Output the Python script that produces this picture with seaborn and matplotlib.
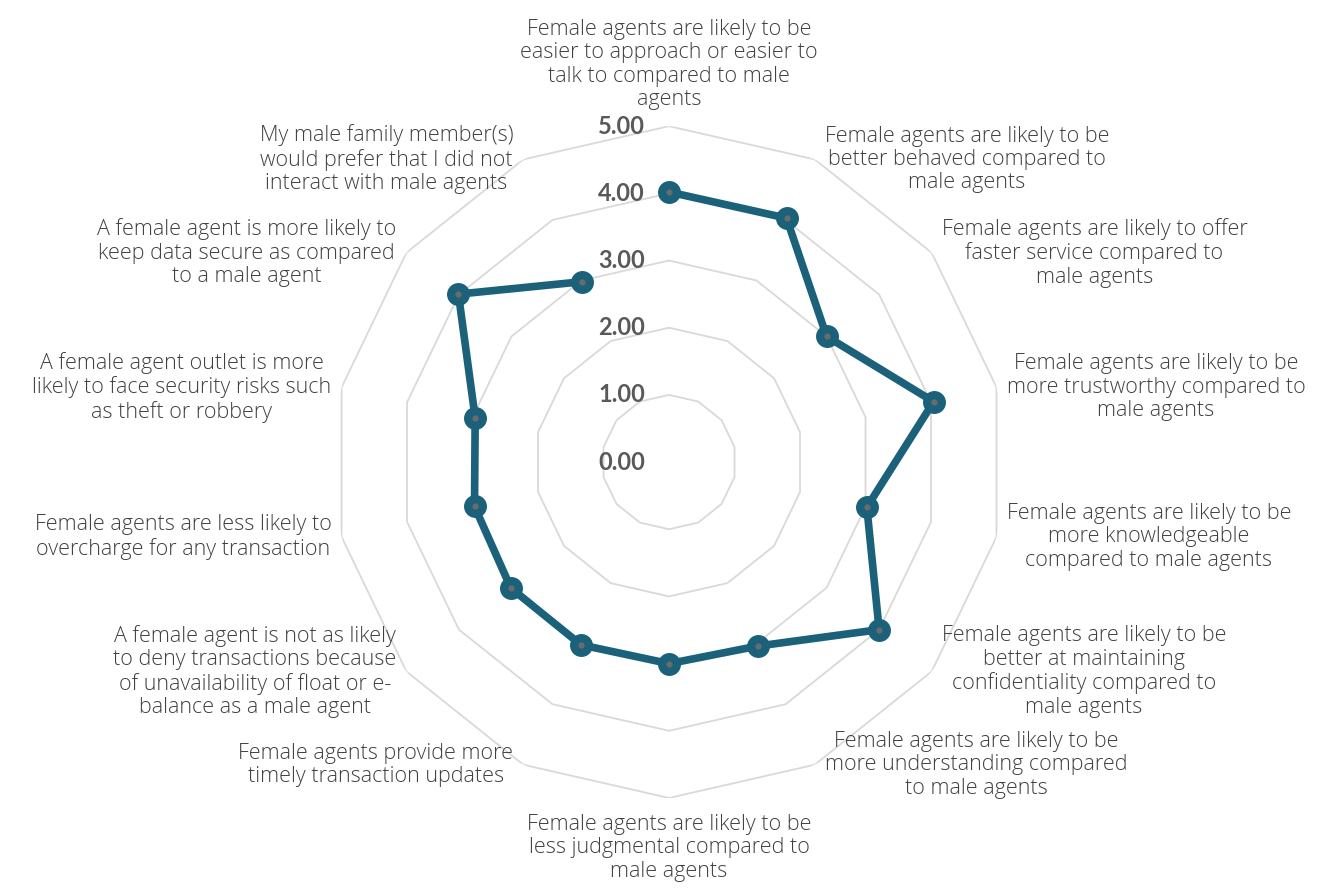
import matplotlib
matplotlib.use("Agg")
import numpy as np
import pandas as pd
import matplotlib.pyplot as plt
import seaborn as sns

categories = [
    "Female agents are likely to be\neasier to approach or easier to\ntalk to compared to male\nagents",
    "Female agents are likely to be\nbetter behaved compared to\nmale agents",
    "Female agents are likely to offer\nfaster service compared to\nmale agents",
    "Female agents are likely to be\nmore trustworthy compared to\nmale agents",
    "Female agents are likely to be\nmore knowledgeable\ncompared to male agents",
    "Female agents are likely to be\nbetter at maintaining\nconfidentiality compared to\nmale agents",
    "Female agents are likely to be\nmore understanding compared\nto male agents",
    "Female agents are likely to be\nless judgmental compared to\nmale agents",
    "Female agents provide more\ntimely transaction updates",
    "A female agent is not as likely\nto deny transactions because\nof unavailability of float or e-\nbalance as a male agent",
    "Female agents are less likely to\novercharge for any transaction",
    "A female agent outlet is more\nlikely to face security risks such\nas theft or robbery",
    "A female agent is more likely to\nkeep data secure as compared\nto a male agent",
    "My male family member(s)\nwould prefer that I did not\ninteract with male agents",
]
scores = [4.02, 4.03, 3.00, 4.04, 3.02, 4.00, 3.04, 3.00, 3.02, 3.01, 2.97, 2.96, 4.01, 2.98]
ticks = [0, 1, 2, 3, 4, 5]
tick_labels = ["0.00", "1.00", "2.00", "3.00", "4.00", "5.00"]

line_color = "#1a6179"
grid_color = "#d9d9d9"
text_color = "#404040"

sns.set_style("white")
plt.rcParams["font.family"] = ["Open Sans", "DejaVu Sans"]

n = len(categories)
theta = np.arange(n) * 2 * np.pi / n
df = pd.DataFrame({"theta": np.append(theta, theta[0]),
                   "score": scores + scores[:1]})

fig = plt.figure(figsize=(13.44, 8.91), dpi=100)
ax = fig.add_axes([0.2478, 0.1044, 0.5, 0.754], projection="polar")
ax.set_theta_zero_location("N")
ax.set_theta_direction(-1)
ax.set_ylim(0, 5)
ax.grid(False)
ax.spines["polar"].set_visible(False)
ax.set_xticks([])
ax.set_yticks([])

# polygon gridlines
ring_theta = np.append(theta, theta[0])
for t in ticks[1:]:
    ax.plot(ring_theta, [t] * (n + 1), color=grid_color, lw=1.3, zorder=1)

sns.lineplot(data=df, x="theta", y="score", sort=False, ax=ax,
             color=line_color, lw=5.5, zorder=3, legend=False)
ax.plot(theta, scores, "o", ms=15.5, color=line_color, zorder=4)
ax.plot(theta, scores, "o", ms=3.5, color="#6b6b6b", zorder=5)

# radial tick labels
for t, lab in zip(ticks, tick_labels):
    ax.annotate(lab, xy=(0, t), xytext=(-24, 0), textcoords="offset pixels",
                ha="right", va="center", fontsize=17, fontweight="bold",
                color="#595959", zorder=6, family=["Lato", "DejaVu Sans"])

# category labels
for i, (ang, lab) in enumerate(zip(theta, categories)):
    deg = np.degrees(ang)
    if i == 0:
        ha, va, off = "center", "bottom", (0, 16)
    elif i == n // 2:
        ha, va, off = "center", "top", (0, -16)
    elif deg < 180:
        ha, va, off = "left", "center", (10, 0)
    else:
        ha, va, off = "right", "center", (-10, 0)
    ax.annotate(lab, xy=(ang, 5), xytext=off, textcoords="offset pixels",
                ha=ha, va=va, multialignment="center", fontsize=15.5,
                fontweight="light", color=text_color, linespacing=1.15,
                annotation_clip=False)

fig.savefig("out.png", dpi=100, facecolor="white")
